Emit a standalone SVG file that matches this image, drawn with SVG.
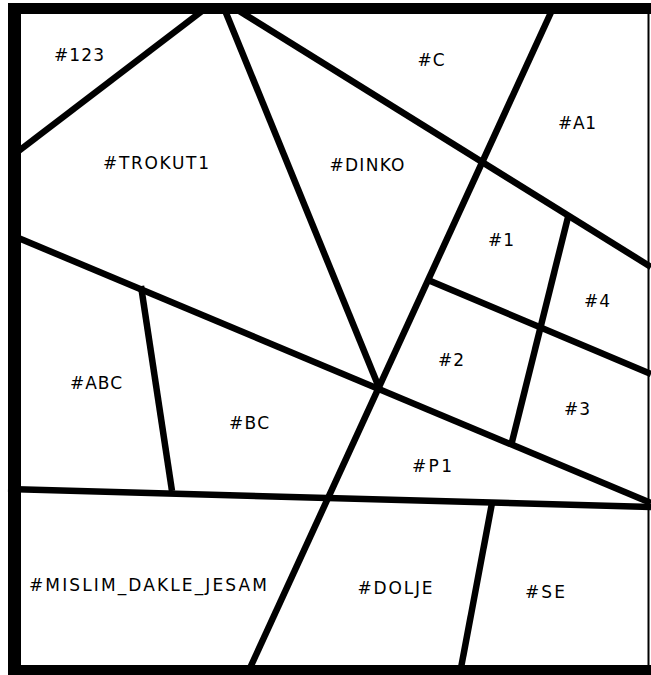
<svg xmlns="http://www.w3.org/2000/svg" width="651" height="675" viewBox="0 0 651 675">
<style>
.ln{stroke:#000;stroke-width:6.5;fill:none;stroke-linecap:butt}
.lb{font-family:"DejaVu Sans",Verdana,sans-serif;font-size:17px;fill:#000;text-anchor:middle;dominant-baseline:central}
</style>
<rect x="0" y="0" width="651" height="675" fill="#fff"/>
<g id="lines">
<line class="ln" x1="206" y1="8" x2="16" y2="153"/>
<line class="ln" x1="224" y1="8" x2="380" y2="390"/>
<line class="ln" x1="236" y1="9" x2="651" y2="267"/>
<line class="ln" x1="553" y1="8" x2="250" y2="668"/>
<line class="ln" x1="16" y1="237" x2="651" y2="503"/>
<line class="ln" x1="141" y1="286" x2="172" y2="491"/>
<line class="ln" x1="8" y1="489" x2="651" y2="507"/>
<line class="ln" x1="428" y1="280" x2="651" y2="374"/>
<line class="ln" x1="568" y1="217" x2="511" y2="446"/>
<line class="ln" x1="492" y1="503" x2="461" y2="668"/>
</g>
<g id="frame">
<rect x="8" y="3" width="645" height="11" fill="#000"/>
<rect x="8" y="3" width="13" height="672" fill="#000"/>
<rect x="8" y="665" width="645" height="10" fill="#000"/>
<rect x="647.5" y="3" width="2" height="672" fill="#000"/>
</g>
<g id="n123"><text class="lb" x="79" y="55" textLength="50">#123</text></g>
<g id="nC"><text class="lb" x="431" y="60" textLength="27">#C</text></g>
<g id="nA1"><text class="lb" x="577" y="123" textLength="38">#A1</text></g>
<g id="nTROKUT1"><text class="lb" x="156" y="163" textLength="106">#TROKUT1</text></g>
<g id="nDINKO"><text class="lb" x="367" y="165" textLength="75">#DINKO</text></g>
<g id="n1"><text class="lb" x="501" y="240" textLength="26">#1</text></g>
<g id="n4"><text class="lb" x="597" y="301" textLength="26">#4</text></g>
<g id="nABC"><text class="lb" x="96" y="383" textLength="52">#ABC</text></g>
<g id="n2"><text class="lb" x="451" y="360" textLength="26">#2</text></g>
<g id="n3"><text class="lb" x="577" y="409" textLength="26">#3</text></g>
<g id="nBC"><text class="lb" x="249" y="423" textLength="40">#BC</text></g>
<g id="nP1"><text class="lb" x="432" y="466" textLength="40">#P1</text></g>
<g id="nMISLIM"><text class="lb" x="148" y="585" textLength="238">#MISLIM_DAKLE_JESAM</text></g>
<g id="nDOLJE"><text class="lb" x="395" y="588" textLength="75">#DOLJE</text></g>
<g id="nSE"><text class="lb" x="545" y="592" textLength="40">#SE</text></g>
</svg>
